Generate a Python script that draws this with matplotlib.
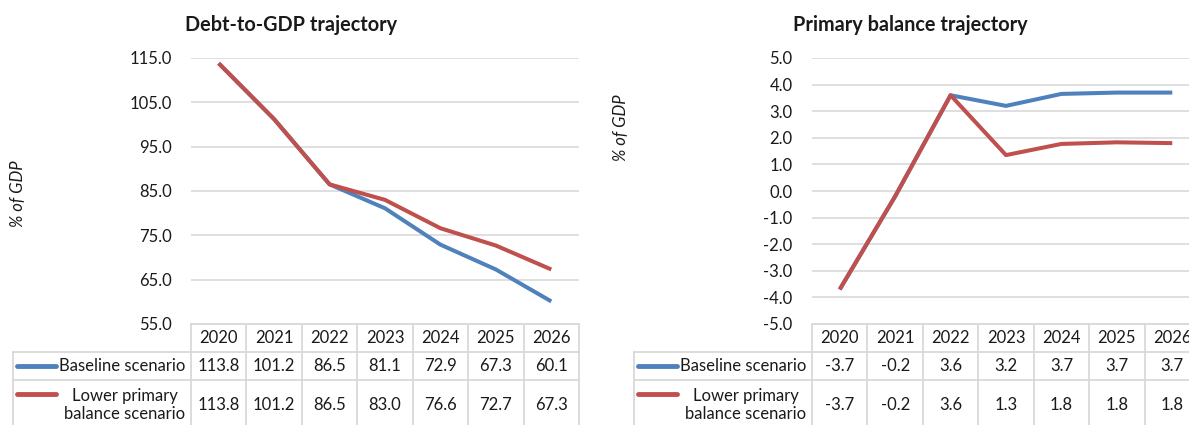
import matplotlib

matplotlib.use("Agg")
import matplotlib.pyplot as plt
from matplotlib import transforms
from matplotlib.lines import Line2D

plt.rcParams["font.family"] = ["Lato", "DejaVu Sans"]

years = ["2020", "2021", "2022", "2023", "2024", "2025", "2026"]
series_labels = ["Baseline scenario", "Lower primary\nbalance scenario"]

debt_baseline = [113.8, 101.2, 86.5, 81.1, 72.9, 67.3, 60.1]
debt_lower_pb = [113.8, 101.2, 86.5, 83.0, 76.6, 72.7, 67.3]

pb_baseline = [-3.7, -0.2, 3.6, 3.2, 3.65, 3.7, 3.7]
pb_lower_pb = [-3.7, -0.2, 3.6, 1.35, 1.77, 1.83, 1.8]
pb_baseline_shown = ["-3.7", "-0.2", "3.6", "3.2", "3.7", "3.7", "3.7"]
pb_lower_shown = ["-3.7", "-0.2", "3.6", "1.3", "1.8", "1.8", "1.8"]

BLUE = "#4f81bd"
RED = "#c0504d"
GRID = "#d9d9d9"
INK = "#1a1a1a"

W, H = 1189, 425
fig = plt.figure(figsize=(W / 100, H / 100), dpi=100)

# layout in pixels
PLOT_W, PLOT_H = 388, 266
COL_PX = PLOT_W / len(years)
ROW_EDGES = [0, 28, 56, 112]  # px below the plot area
LABEL_COL_PX = 178
FS = 12


def add_axes_px(left, top, width, height):
    return fig.add_axes([left / W, 1 - (top + height) / H, width / W, height / H])


def draw_chart(ax, s1, s2, ylim, yticks, title, title_x, ylabel_x, ylabel_y):
    x = range(len(years))
    ax.plot(x, s1, color=BLUE, lw=2.9, solid_capstyle="butt", zorder=3)
    ax.plot(x, s2, color=RED, lw=2.9, solid_capstyle="butt", zorder=4)
    ax.set_xlim(-0.5, len(years) - 0.5)
    ax.set_ylim(*ylim)
    ax.set_yticks(yticks)
    ax.set_yticklabels([f"{v:.1f}" for v in yticks], fontsize=FS, color=INK)
    ax.set_xticks([])
    ax.tick_params(axis="y", length=0, pad=14)
    ax.grid(axis="y", color=GRID, lw=1.2)
    ax.set_axisbelow(True)
    for sp in ax.spines.values():
        sp.set_visible(False)
    fig.text(title_x / W, 1 - 25 / H, title, fontsize=14.3, fontweight="bold",
             ha="center", va="center", color=INK)
    fig.text(ylabel_x / W, 1 - ylabel_y / H, "% of GDP", fontsize=12, style="italic",
             rotation=90, ha="center", va="center", color=INK)


def draw_table(ax, row_values):
    tr = transforms.blended_transform_factory(ax.transData, ax.transAxes)
    n = len(years)
    unit = 1 / COL_PX  # data units per pixel along x
    fy = [-e / PLOT_H for e in ROW_EDGES]
    x_lab = -0.5 - LABEL_COL_PX * unit
    x_end = n - 0.5
    kw = dict(transform=tr, color=GRID, lw=1.3, clip_on=False, zorder=1)

    # cell borders
    ax.add_line(Line2D([-0.5, x_end], [fy[0], fy[0]], **kw))
    for y in fy[1:]:
        ax.add_line(Line2D([x_lab, x_end], [y, y], **kw))
    ax.add_line(Line2D([x_lab, x_lab], [fy[1], fy[3]], **kw))
    for i in range(n + 1):
        ax.add_line(Line2D([i - 0.5, i - 0.5], [fy[0], fy[3]], **kw))

    tkw = dict(transform=tr, fontsize=FS, ha="center", va="center",
               color=INK, clip_on=False)
    for i, yr in enumerate(years):
        ax.text(i, (fy[0] + fy[1]) / 2, yr, **tkw)

    row_mid = [(fy[1] + fy[2]) / 2, -(56 + 50 / 2) / PLOT_H]
    key_y = [row_mid[0], -70 / PLOT_H]
    for r, (vals, color, label) in enumerate(zip(row_values, [BLUE, RED], series_labels)):
        for i, v in enumerate(vals):
            ax.text(i, row_mid[r], v, **tkw)
        ax.add_line(Line2D([x_lab + 4 * unit, x_lab + 43 * unit], [key_y[r], key_y[r]],
                           transform=tr, color=color, lw=3.5, clip_on=False,
                           solid_capstyle="round"))
        if r == 0:
            ax.text(x_lab + 46 * unit, row_mid[r], label, transform=tr, fontsize=FS,
                    ha="left", va="center", color=INK, clip_on=False)
        else:
            cx = x_lab + (46 + (LABEL_COL_PX - 46) / 2) * unit
            ax.text(cx, row_mid[r], label, transform=tr, fontsize=FS, ha="center",
                    va="center", color=INK, linespacing=1.2, clip_on=False)


ax1 = add_axes_px(191, 58, PLOT_W, PLOT_H)
draw_chart(ax1, debt_baseline, debt_lower_pb, (55, 115), [55, 65, 75, 85, 95, 105, 115],
           "Debt-to-GDP trajectory", 291, 18, 194)
draw_table(ax1, [[f"{v:.1f}" for v in debt_baseline], [f"{v:.1f}" for v in debt_lower_pb]])

ax2 = add_axes_px(812, 58, PLOT_W, PLOT_H)
draw_chart(ax2, pb_baseline, pb_lower_pb, (-5, 5), list(range(-5, 6)),
           "Primary balance trajectory", 910, 621, 128)
draw_table(ax2, [pb_baseline_shown, pb_lower_shown])

fig.savefig("out.png", dpi=100)
